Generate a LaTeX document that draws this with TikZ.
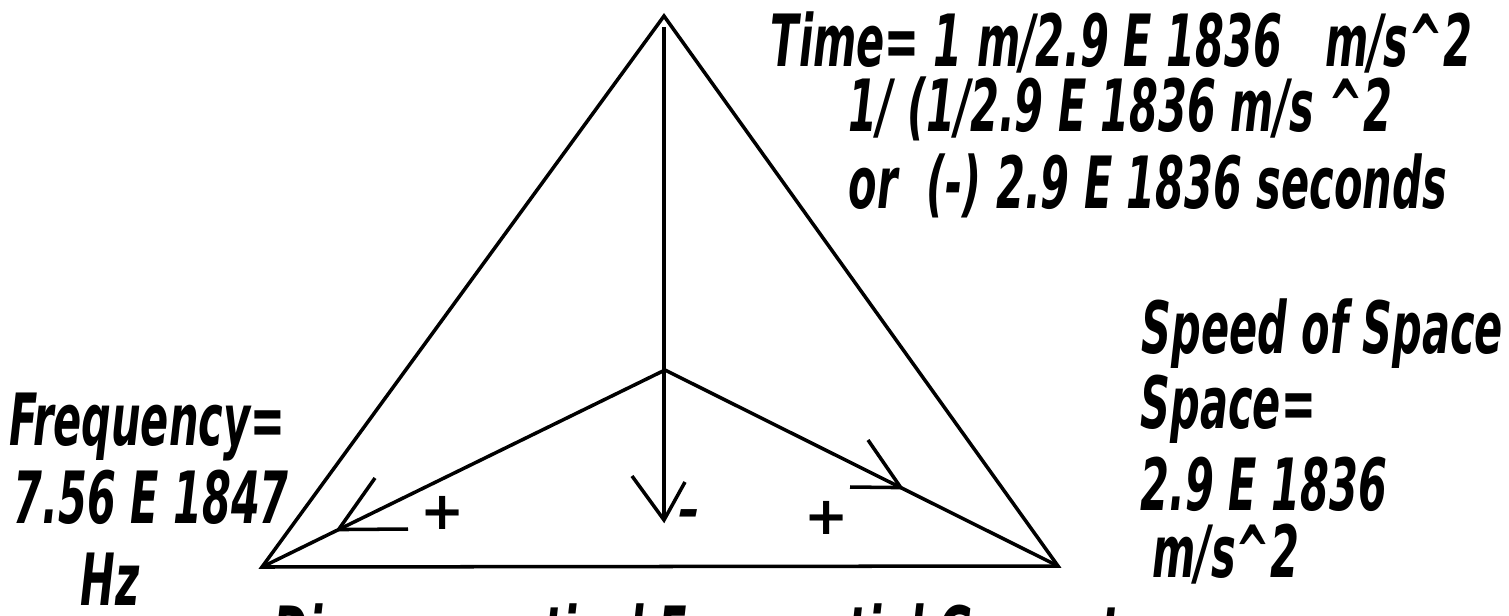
\documentclass[tikz,border=0pt]{standalone}
\usepackage{fontspec}
\usetikzlibrary{calc}
\newfontfamily\labelfont{DejaVu Sans Condensed Bold Oblique}[FakeStretch=0.64]
\newfontfamily\signfont{DejaVu Sans Bold Oblique}

\begin{document}
\begin{tikzpicture}[
    x=0.01cm, y=-0.01cm,
    edge/.style={
        line width=1pt,
        line join=miter
    },
    quantity/.style={
        anchor=base west,
        inner sep=0pt,
        font=\labelfont\fontsize{20.5}{24}\selectfont
    },
    sign/.style={
        inner sep=0pt,
        font=\signfont\fontsize{15}{17}\selectfont
    }
]
\useasboundingbox (0,0) rectangle (1509,615);

% ------------------------------------------------------------
% Corners
% ------------------------------------------------------------

\coordinate (vtop) at (664,16);
\coordinate (vleft) at (262,567);
\coordinate (vright) at (1058,566);
\coordinate (centre) at (665,370);

% ------------------------------------------------------------
% Outer triangle and inner lines
% ------------------------------------------------------------

\draw[edge] (vleft) -- (vtop) -- (vright) -- cycle;
\draw[edge] (vleft) -- (centre) -- (vright);

% ------------------------------------------------------------
% Downward arrow
% ------------------------------------------------------------

\coordinate (stem) at (664,27);
\coordinate (stemtip) at (664,520);
\coordinate (stemarmA) at (632,476);
\coordinate (stemarmB) at (685,482);
\draw[edge] (stem) -- (stemtip);
\draw[edge] (stemarmA) -- (stemtip) -- (stemarmB);

% ------------------------------------------------------------
% Arrow heads on the inner lines
% ------------------------------------------------------------

\coordinate (ltip) at ($(vleft)!0.19!(centre)$);
\coordinate (larmA) at (375,478);
\coordinate (larmB) at (408,529);
\draw[edge] (larmA) -- (ltip) -- (larmB);

\coordinate (rtip) at ($(centre)!0.6!(vright)$);
\coordinate (rarmA) at (868,440);
\coordinate (rarmB) at (850,487);
\draw[edge] (rarmA) -- (rtip) -- (rarmB);

% ------------------------------------------------------------
% Signs
% ------------------------------------------------------------

\node[sign] (plusL) at (443,513) {+};
\node[sign] (minus) at (689,519) {-};
\node[sign] (plusR) at (827,518) {+};

% ------------------------------------------------------------
% Time
% ------------------------------------------------------------

\node[quantity] (time1) at (770,66) {Time= 1 m/2.9 E 1836\ \ \ m/s\textasciicircum2};
\node[quantity] (time2) at (848,131) {1/ (1/2.9 E 1836 m/s \textasciicircum2};
\node[quantity] (time3) at (848,208) {or\ \ (-) 2.9 E 1836 seconds};

% ------------------------------------------------------------
% Space
% ------------------------------------------------------------

\node[quantity] (space1) at (1141,353) {Speed of Space};
\node[quantity] (space2) at (1140,428) {Space=};
\node[quantity] (space3) at (1140,510) {2.9 E 1836};
\node[quantity] (space4) at (1152,577) {m/s\textasciicircum2};

% ------------------------------------------------------------
% Frequency
% ------------------------------------------------------------

\node[quantity] (freq1) at (9,445) {Frequency=};
\node[quantity] (freq2) at (13,523) {7.56 E 1847};
\node[quantity] (freq3) at (80,605) {Hz};

% ------------------------------------------------------------
% Caption (cut off by the lower edge)
% ------------------------------------------------------------

\node[quantity] (caption) at (273,658) {Diagrammatical Frequential Geometry};

\end{tikzpicture}
\end{document}
